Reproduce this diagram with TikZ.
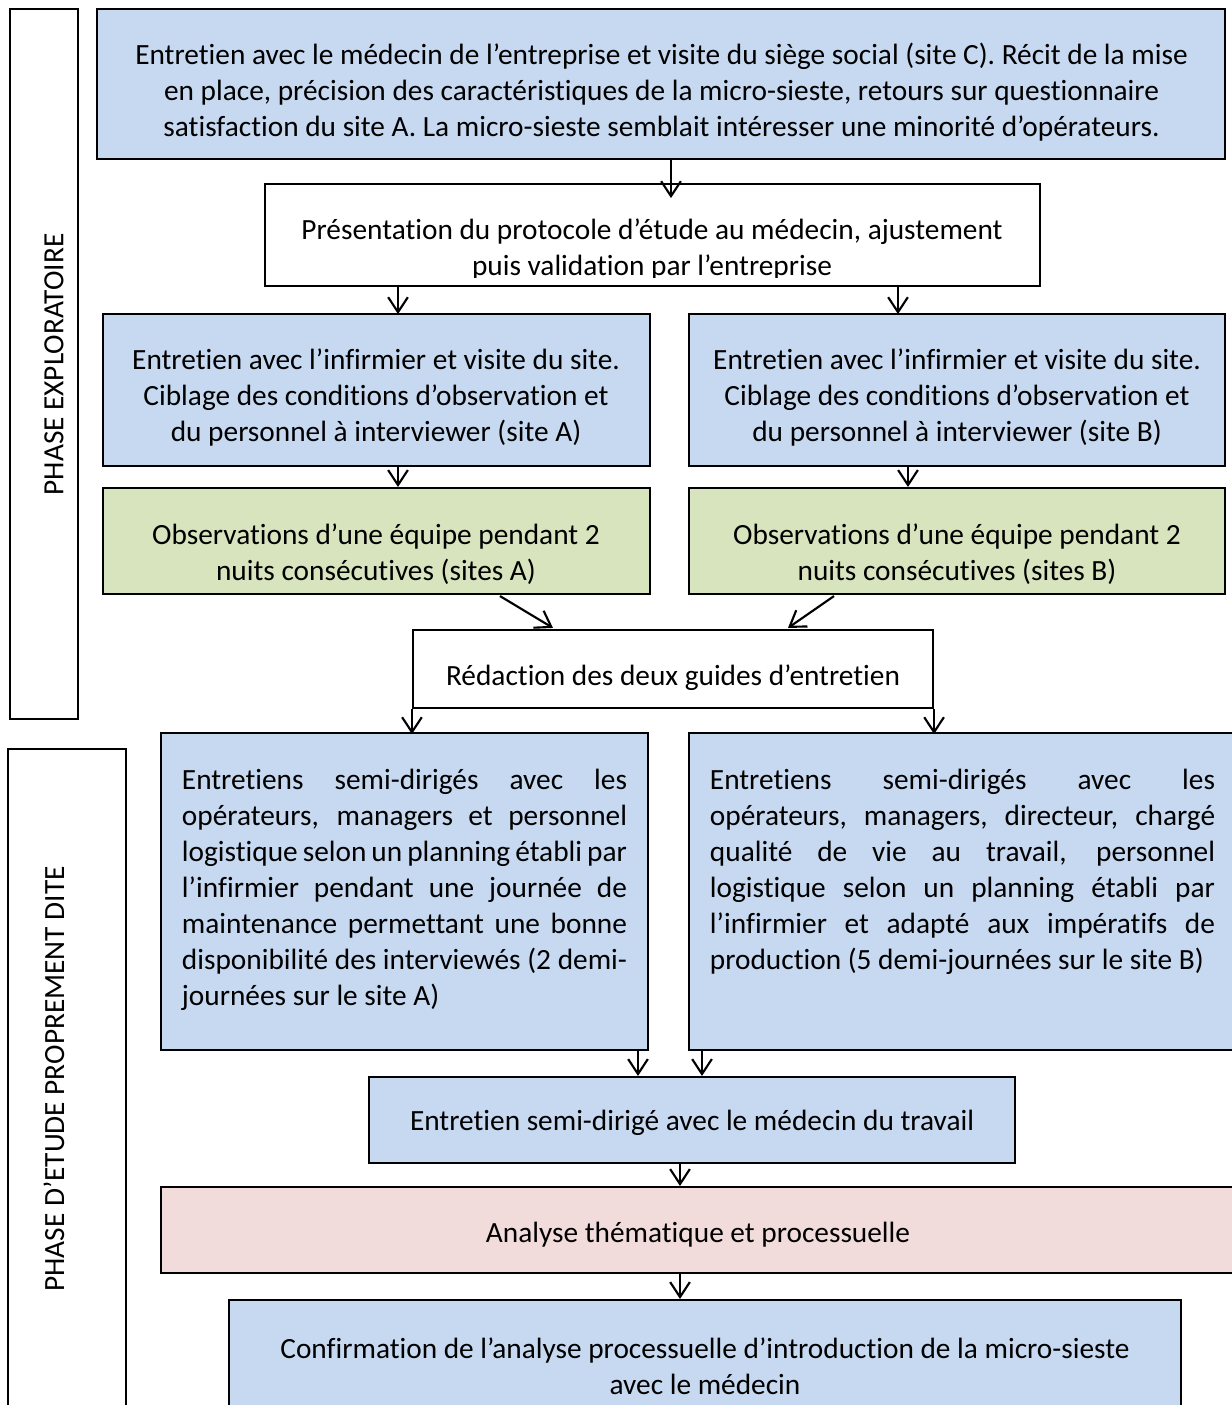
\documentclass[tikz,border=0pt]{standalone}
\usepackage{fontspec}
\setmainfont{Carlito}[Ligatures=NoCommon]
\usetikzlibrary{arrows.meta,calc}
\definecolor{bluefill}{RGB}{198,217,241}
\definecolor{greenfill}{RGB}{215,228,189}
\definecolor{pinkfill}{RGB}{242,220,219}
\newcommand{\mainsize}{\fontsize{11pt}{13.5pt}\selectfont}
\tikzset{
  boxst/.style={draw, line width=0.8pt, inner sep=0pt},
  txt/.style={inner sep=0pt, align=center, font=\mainsize},
  jtxt/.style={inner sep=0pt, align=justify, font=\mainsize},
  arr/.style={line width=0.8pt, -{Straight Barb[length=5.6pt,width=7.4pt]}},
}
\begin{document}
\begin{tikzpicture}[x=0.375pt,y=-0.375pt]
\useasboundingbox (0,0) rectangle (1232,1405);
% side labels
\node[boxst, minimum width=25.5pt, minimum height=266.25pt] (lab1) at (44,364) {};
\node[boxst, minimum width=44.25pt, minimum height=249.75pt] (lab2) at (67,1082) {};
\node[txt, rotate=90] (lab1t) at (54,364.5) {PHASE EXPLORATOIRE};
\node[txt, rotate=90] (lab2t) at (54,1079) {PHASE D’ETUDE PROPREMENT DITE};
% boxes
\node[boxst, fill=bluefill, minimum width=423pt, minimum height=56.25pt] (top) at (661,84) {};
\node[boxst, fill=white, minimum width=290.625pt, minimum height=38.25pt] (pres) at (652.5,235) {};
\node[boxst, fill=bluefill, minimum width=205.125pt, minimum height=57pt] (a1) at (376.5,390) {};
\node[boxst, fill=bluefill, minimum width=201pt, minimum height=57pt] (b1) at (957,390) {};
\node[boxst, fill=greenfill, minimum width=205.125pt, minimum height=39.75pt] (a2) at (376.5,541) {};
\node[boxst, fill=greenfill, minimum width=201pt, minimum height=39.75pt] (b2) at (957,541) {};
\node[boxst, fill=white, minimum width=195pt, minimum height=29.25pt] (red) at (673,669) {};
\node[boxst, fill=bluefill, minimum width=182.625pt, minimum height=118.875pt] (a3) at (404.5,891.5) {};
\node[boxst, fill=bluefill, minimum width=205.125pt, minimum height=118.875pt] (b3) at (962.5,891.5) {};
\node[boxst, fill=bluefill, minimum width=242.25pt, minimum height=32.25pt] (med) at (692,1120) {};
\node[boxst, fill=pinkfill, minimum width=403.125pt, minimum height=32.25pt] (ana) at (698.5,1230) {};
\node[boxst, fill=bluefill, minimum width=357pt, minimum height=41.25pt] (conf) at (705,1355) {};
% texts
\node[txt] (topt) at (661.5,92) {Entretien avec le médecin de l’entreprise et visite du siège social (site C). Récit de la mise\\en place, précision des caractéristiques de la micro-sieste, retours sur questionnaire\\satisfaction du site A. La micro-sieste semblait intéresser une minorité d’opérateurs.};
\begin{scope}
\clip (265,184) rectangle (1040,277);
\node[txt] (prest) at (652,249.5) {Présentation du protocole d’étude au médecin, ajustement\\puis validation par l’entreprise};
\end{scope}
\node[txt] (a1t) at (376,398) {Entretien avec l’infirmier et visite du site.\\Ciblage des conditions d’observation et\\du personnel à interviewer (site A)};
\node[txt] (b1t) at (957,398) {Entretien avec l’infirmier et visite du site.\\Ciblage des conditions d’observation et\\du personnel à interviewer (site B)};
\node[txt] (a2t) at (376,554) {Observations d’une équipe pendant 2\\nuits consécutives (sites A)};
\node[txt] (b2t) at (957,554) {Observations d’une équipe pendant 2\\nuits consécutives (sites B)};
\node[txt] (redt) at (673,678) {Rédaction des deux guides d’entretien};
\node[jtxt, text width=166.9pt] (a3t) at (404.5,890) {\hyphenpenalty=10000\tolerance=10000 Entretiens semi-dirigés avec les\linebreak opérateurs, managers et personnel\linebreak logistique selon un planning établi par\linebreak l’infirmier pendant une journée de\linebreak maintenance permettant une bonne\linebreak disponibilité des interviewés (2 demi-\linebreak journées sur le site A)};
\node[jtxt, text width=189.4pt] (b3t) at (962.5,872) {\hyphenpenalty=10000\tolerance=10000 Entretiens semi-dirigés avec les\linebreak opérateurs, managers, directeur, chargé\linebreak qualité de vie au travail, personnel\linebreak logistique selon un planning établi par\linebreak l’infirmier et adapté aux impératifs de\linebreak production (5 demi-journées sur le site B)};
\node[txt] (medt) at (692,1123) {Entretien semi-dirigé avec le médecin du travail};
\node[txt] (anat) at (698,1235) {Analyse thématique et processuelle};
\node[txt] (conft) at (705,1366) {Confirmation de l’analyse processuelle d’introduction de la micro-sieste\\avec le médecin};
% arrows
\draw[arr] ($(top.south)+(10,0)$) -- ++(0,38);
\draw[arr] ($(pres.south)+(-254.5,0)$) -- ++(0,27);
\draw[arr] ($(pres.south)+(245.5,0)$) -- ++(0,27);
\draw[arr] ($(a1.south)+(21.5,0)$) -- ($(a2.north)+(21.5,0)$);
\draw[arr] ($(b1.south)+(-49,0)$) -- ($(b2.north)+(-49,0)$);
\draw[arr] ($(a2.south)+(123.5,1)$) -- ($(red.north)+(-120,-1)$);
\draw[arr] ($(b2.south)+(-123,1)$) -- ($(red.north)+(115,-1)$);
\draw[arr] (red.south west) -- ++(0,25);
\draw[arr] (red.south east) -- ++(0,25);
\draw[arr] ($(a3.south)+(233.5,0)$) -- ($(med.north)+(-54,0)$);
\draw[arr] ($(b3.south)+(-260.5,0)$) -- ($(med.north)+(10,0)$);
\draw[arr] ($(med.south)+(-12,0)$) -- ($(ana.north)+(-18.5,0)$);
\draw[arr] ($(ana.south)+(-18.5,0)$) -- ($(conf.north)+(-25,0)$);
\end{tikzpicture}
\end{document}
